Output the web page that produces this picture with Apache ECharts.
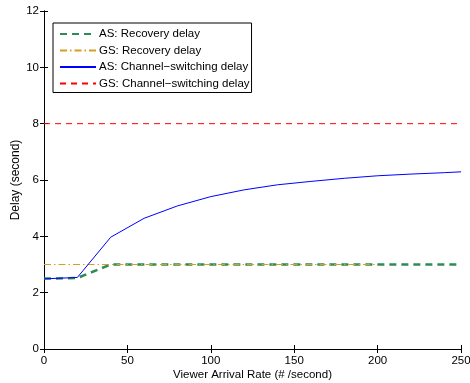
<!DOCTYPE html>
<html>
<head>
<meta charset="utf-8">
<script src="https://cdn.jsdelivr.net/npm/echarts@6/dist/echarts.min.js"></script>
<style>html,body{margin:0;padding:0;background:#fff}#c{width:470px;height:383px}</style>
</head>
<body>
<div id="c"></div>
<script>
const xTicks = [0, 50, 100, 150, 200, 250];
const yTicks = [0, 2, 4, 6, 8, 10, 12];
const seriesNames = ['AS: Recovery delay', 'GS: Recovery delay', 'AS: Channel\u2212switching delay', 'GS: Channel\u2212switching delay'];

const asRecX = [0, 20, 40, 60, 80, 100, 120, 140, 160, 180, 200, 220, 240, 250];
const asRecY = [2.5, 2.52, 3.0, 3.0, 3.0, 3.0, 3.0, 3.0, 3.0, 3.0, 3.0, 3.0, 3.0, 3.0];

const gsRecX = [0, 200];
const gsRecY = [3.0, 3.0];

const asSwX = [0, 20, 40, 60, 80, 100, 120, 140, 160, 180, 200, 220, 240, 250];
const asSwY = [2.49, 2.54, 3.97, 4.64, 5.08, 5.41, 5.65, 5.83, 5.95, 6.06, 6.15, 6.21, 6.26, 6.29];

const gsSwX = [0, 250];
const gsSwY = [8, 8];

const pairs = (xs, ys) => xs.map((x, i) => [x, ys[i]]);
const font = 'Liberation Sans, Arial, sans-serif';
const fs = 11.5;

const chart = echarts.init(document.getElementById('c'));
const axisCommon = {
  axisLine: { show: true, lineStyle: { color: '#000', width: 1 } },
  axisTick: { show: true, inside: true, length: 4, lineStyle: { color: '#000' } },
  splitLine: { show: false }
};
chart.setOption({
  animation: false,
  backgroundColor: '#fff',
  grid: { left: 44, right: 9, top: 11, bottom: 34, containLabel: false, outerBoundsMode: 'none' },
  legend: {
    left: 53, top: 23,
    orient: 'vertical',
    itemWidth: 36, itemHeight: 10, itemGap: 4.5,
    padding: [5, 2, 3, 6],
    borderColor: '#000', borderWidth: 1,
    backgroundColor: '#fff',
    itemStyle: { opacity: 0 },
    textStyle: { fontFamily: font, fontSize: fs, color: '#000', padding: [0, 0, 0, -2] },
    data: seriesNames
  },
  xAxis: [
    Object.assign({}, axisCommon, {
      type: 'value', min: xTicks[0], max: xTicks[xTicks.length - 1], interval: 50,
      name: 'Viewer Arrival Rate (# /second)', nameLocation: 'middle', nameGap: 20, nameMoveOverlap: false,
      nameTextStyle: { fontFamily: font, fontSize: fs, color: '#000' },
      axisLabel: { fontFamily: font, fontSize: fs, color: '#000', margin: 6 }
    }),
    Object.assign({}, axisCommon, {
      type: 'value', position: 'top', min: 0, max: 250, interval: 50,
      axisLabel: { show: false }
    })
  ],
  yAxis: [
    Object.assign({}, axisCommon, {
      type: 'value', min: yTicks[0], max: yTicks[yTicks.length - 1], interval: 2,
      name: 'Delay (second)', nameLocation: 'middle', nameGap: 22, nameMoveOverlap: false,
      nameTextStyle: { fontFamily: font, fontSize: 12, color: '#000' },
      axisLabel: { fontFamily: font, fontSize: fs, color: '#000', margin: 5 }
    }),
    Object.assign({}, axisCommon, {
      type: 'value', position: 'right', min: 0, max: 12, interval: 2,
      axisLabel: { show: false }
    })
  ],
  series: [
    { name: seriesNames[0], type: 'line', data: pairs(asRecX, asRecY), symbol: 'none', z: 3,
      lineStyle: { color: '#2e8b57', width: 2.5, type: [7, 5] }, itemStyle: { color: '#2e8b57' } },
    { name: seriesNames[1], type: 'line', data: pairs(gsRecX, gsRecY), symbol: 'none', z: 4,
      lineStyle: { color: '#d4a020', width: 1, type: [7, 3, 1.5, 3] }, itemStyle: { color: '#d4a020' } },
    { name: seriesNames[2], type: 'line', data: pairs(asSwX, asSwY), symbol: 'none', z: 5,
      lineStyle: { color: '#0000ff', width: 1 }, itemStyle: { color: '#0000ff' } },
    { name: seriesNames[3], type: 'line', data: pairs(gsSwX, gsSwY), symbol: 'none', z: 2,
      lineStyle: { color: '#ff0000', width: 1, type: [6, 5] }, itemStyle: { color: '#ff0000' } }
  ]
});
</script>
</body>
</html>
